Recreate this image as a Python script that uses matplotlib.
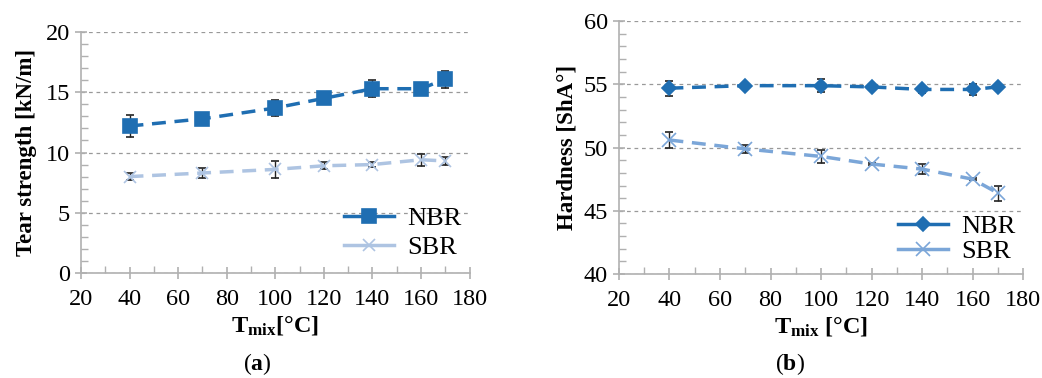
import matplotlib.pyplot as plt
from matplotlib.lines import Line2D
from matplotlib.ticker import MultipleLocator

t_mix = [40, 70, 100, 120, 140, 160, 170]

tear_nbr = [12.2, 12.8, 13.7, 14.5, 15.3, 15.3, 16.1]
tear_nbr_err = [0.9, 0.2, 0.7, 0.3, 0.7, 0.3, 0.7]
tear_sbr = [8.0, 8.3, 8.6, 8.9, 9.0, 9.4, 9.3]
tear_sbr_err = [0.3, 0.4, 0.7, 0.3, 0.2, 0.5, 0.3]

hard_nbr = [54.7, 54.9, 54.9, 54.8, 54.6, 54.6, 54.8]
hard_nbr_err = [0.6, 0.2, 0.5, 0.1, 0.3, 0.4, 0.1]
hard_sbr = [50.6, 49.9, 49.3, 48.7, 48.3, 47.5, 46.4]
hard_sbr_err = [0.6, 0.3, 0.5, 0.1, 0.4, 0.1, 0.6]

plt.rcParams['font.family'] = ['Liberation Serif', 'DejaVu Serif']
plt.rcParams['mathtext.fontset'] = 'custom'
plt.rcParams['mathtext.rm'] = 'Liberation Serif'
plt.rcParams['mathtext.bf'] = 'Liberation Serif:bold'
plt.rcParams['mathtext.it'] = 'Liberation Serif:italic'

NBR_COL = '#1f6eb2'
DASH = (0, (4, 2.5))
fig = plt.figure(figsize=(10.42, 3.78), dpi=100)
ax1 = fig.add_axes([0.0777, 0.278, 0.373, 0.637])
ax2 = fig.add_axes([0.594, 0.275, 0.388, 0.669])


def style(ax, ylo, yhi):
    ax.set_xlim(20, 180)
    ax.set_ylim(ylo, yhi)
    ax.xaxis.set_major_locator(MultipleLocator(20))
    ax.xaxis.set_minor_locator(MultipleLocator(10))
    ax.yaxis.set_major_locator(MultipleLocator(5))
    ax.yaxis.set_minor_locator(MultipleLocator(1))
    for s in ['top', 'right']:
        ax.spines[s].set_visible(False)
    for s in ['left', 'bottom']:
        ax.spines[s].set_color('#b0b0b0')
        ax.spines[s].set_linewidth(1.2)
    ax.tick_params(which='major', direction='inout', length=9, width=1.2,
                   color='#b0b0b0', labelsize=17.5)
    ax.tick_params(axis='x', which='major', pad=7)
    ax.tick_params(which='minor', direction='in', length=5, width=1.0,
                   color='#b0b0b0')
    ax.grid(axis='y', which='major', linestyle=(0, (3, 3)), color='#999999',
            linewidth=0.9)
    ax.set_axisbelow(True)


def series(ax, y, err, color, marker, ms):
    ax.errorbar(t_mix, y, yerr=err, color=color, marker=marker,
                markersize=ms, markeredgewidth=1.2, linestyle=DASH,
                linewidth=2.5, ecolor='#222222', elinewidth=1, capsize=3)
    return Line2D([], [], color=color, marker=marker, markersize=ms,
                  markeredgewidth=1.2, linestyle='-', linewidth=2.5)


style(ax1, 0, 20)
h1 = series(ax1, tear_nbr, tear_nbr_err, NBR_COL, 's', 10)
h2 = series(ax1, tear_sbr, tear_sbr_err, '#aec4e2', 'x', 9)
ax1.set_ylabel('Tear strength [kN/m]', fontsize=16.5, fontweight='bold',
               labelpad=6)
ax1.set_xlabel(r'$\mathbf{T_{mix}}$[°C]', fontsize=17.5, fontweight='bold',
               labelpad=3)
ax1.legend([h1, h2], ['NBR', 'SBR'], loc='lower right',
           bbox_to_anchor=(1.04, -0.04), frameon=False, fontsize=19,
           handlelength=1.9, labelspacing=0.2, handletextpad=0.5)

style(ax2, 40, 60)
h3 = series(ax2, hard_nbr, hard_nbr_err, NBR_COL, 'D', 7)
h4 = series(ax2, hard_sbr, hard_sbr_err, '#7ba6d8', 'x', 10)
ax2.set_ylabel('Hardness [ShA°]', fontsize=16.5, fontweight='bold',
               labelpad=4)
ax2.set_xlabel(r'$\mathbf{T_{mix}}$ [°C]', fontsize=17.5, fontweight='bold',
               labelpad=3)
ax2.legend([h3, h4], ['NBR', 'SBR'], loc='lower right',
           bbox_to_anchor=(1.04, -0.05), frameon=False, fontsize=19,
           handlelength=1.9, labelspacing=0.05, handletextpad=0.5)

fig.text(0.247, 0.02, r'($\mathbf{a}$)', ha='center', fontsize=17)
fig.text(0.758, 0.02, r'($\mathbf{b}$)', ha='center', fontsize=17)

fig.savefig('out.png', dpi=100)
